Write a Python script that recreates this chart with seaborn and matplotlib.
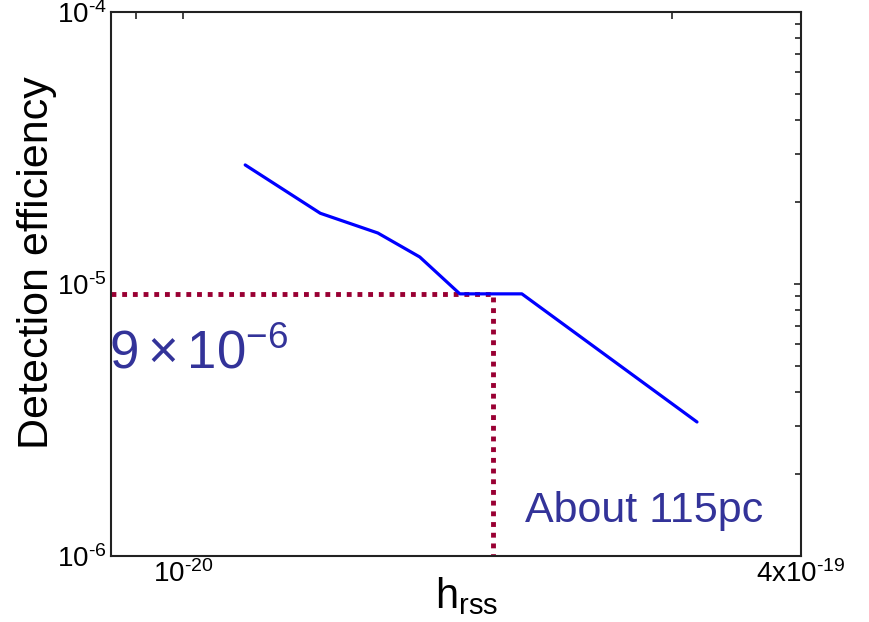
import numpy as np
import pandas as pd
import matplotlib
matplotlib.use("Agg")
import matplotlib.pyplot as plt
import seaborn as sns
from matplotlib.ticker import NullLocator, LogLocator, FixedLocator

# curve
hrss = [1.45e-20, 2.27e-20, 3.20e-20, 4.11e-20, 5.22e-20, 7.56e-20, 2.15e-19]
efficiency = [2.74e-5, 1.82e-5, 1.54e-5, 1.257e-5, 9.2e-6, 9.2e-6, 3.11e-6]

# guide lines
eff_level = 9.2e-6
hrss_level = 6.37e-20

x_limits = [6.51e-21, 4e-19]
y_limits = [1e-6, 1e-4]
x_ticks = [7.55e-21, 1e-20, 1.85e-19, 4e-19]
x_ticklabels = ["", "$10^{\u201020}$", "", "$4x10^{\u201019}$"]
y_ticks = [1e-6, 1e-5, 1e-4]
y_ticklabels = ["$10^{\u20106}$", "$10^{\u20105}$", "$10^{\u20104}$"]

sns.set_theme(style="white")
plt.rcParams["font.family"] = ["Liberation Sans", "DejaVu Sans"]
plt.rcParams["mathtext.fontset"] = "custom"
plt.rcParams["mathtext.rm"] = "Liberation Sans"
plt.rcParams["mathtext.it"] = "Liberation Sans:italic"
plt.rcParams["mathtext.bf"] = "Liberation Sans:bold"
plt.rcParams["mathtext.default"] = "regular"
plt.rcParams["text.color"] = "black"

df = pd.DataFrame({"hrss": hrss, "eff": efficiency})

fig = plt.figure(figsize=(8.7, 6.22), dpi=100)
ax = fig.add_axes([0.1276, 0.1061, 0.7931, 0.8746])

ax.set_xscale("log")
ax.set_yscale("log")

# dotted guide
ax.plot([x_limits[0], hrss_level, hrss_level], [eff_level, eff_level, y_limits[0]],
        color="#990033", lw=3.5, linestyle=(0, (1, 1.2)), zorder=2)

sns.lineplot(data=df, x="hrss", y="eff", color="#0000ff", lw=2.3, ax=ax, zorder=3, sort=False)

ax.set_xlim(x_limits)
ax.set_ylim(y_limits)

ax.xaxis.set_major_locator(FixedLocator(x_ticks))
ax.set_xticklabels(x_ticklabels)
ax.xaxis.set_minor_locator(NullLocator())
ax.yaxis.set_major_locator(FixedLocator(y_ticks))
ax.set_yticklabels(y_ticklabels)
ax.yaxis.set_minor_locator(LogLocator(base=10, subs=np.arange(2, 10)))

ax.tick_params(axis="both", which="both", direction="in", top=True, right=True,
               labelsize=20, colors="#222222", width=1.2)
ax.tick_params(axis="both", which="major", length=5, pad=3)
ax.tick_params(axis="both", which="minor", length=4)
for lab in ax.get_xticklabels() + ax.get_yticklabels():
    lab.set_color("black")
for s in ax.spines.values():
    s.set_color("#222222")
    s.set_linewidth(1.5)

ax.set_xlabel("$h_{rss}$", fontsize=30, color="black", va="top")
ax.xaxis.set_label_coords(0.515, -0.035)
ax.set_ylabel("Detection efficiency", fontsize=31, color="black")
ax.yaxis.set_label_coords(-0.078, 0.54)

ax.text(6.45e-21, 4.91e-6, r"$9\times10^{-6}$", color="#333399", fontsize=38, va="baseline", ha="left")
ax.text(7.7e-20, 1.33e-6, "About 115pc", color="#333399", fontsize=31, va="baseline", ha="left")

fig.savefig("out.png", dpi=100)
